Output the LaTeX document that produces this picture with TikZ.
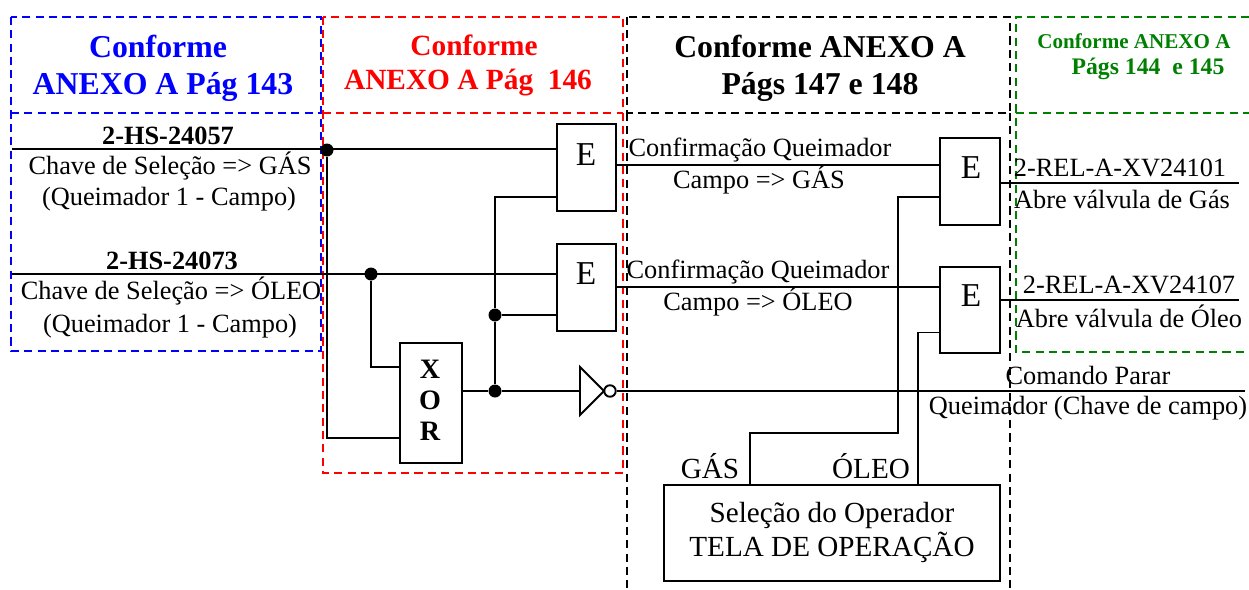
\documentclass[tikz,border=0pt]{standalone}
\usepackage{fontspec}
\setmainfont{Liberation Serif}
\definecolor{darkgreen}{RGB}{0,128,0}
\tikzset{
  zone/.style={dash pattern=on 4.6pt off 3pt, line width=1.3pt},
  wire/.style={line width=1.1pt},
  gate/.style={draw, line width=1.1pt, rectangle, inner sep=0pt},
  dot/.style={circle, fill=black, inner sep=0pt, minimum size=0.26cm},
  bubble/.style={circle, draw, fill=white, line width=1.1pt, inner sep=0pt, minimum size=0.23cm},
  txt/.style={font=\fontsize{15}{18}\selectfont, inner sep=0pt},
  bigtxt/.style={font=\fontsize{16.6}{20}\selectfont, inner sep=0pt},
  btxt/.style={font=\fontsize{15}{18}\selectfont\bfseries, inner sep=0pt},
  headA/.style={font=\fontsize{18.1}{21}\selectfont\bfseries, inner sep=0pt},
  headB/.style={font=\fontsize{16.7}{19}\selectfont\bfseries, inner sep=0pt},
  headC/.style={font=\fontsize{12}{14}\selectfont\bfseries, inner sep=0pt},
  gatetxt/.style={font=\fontsize{19}{21}\selectfont, inner sep=0pt}
}
\begin{document}
\begin{tikzpicture}[x=0.02cm,y=-0.02cm]
    \useasboundingbox (0,0) rectangle (1249,589);
    % Zones
    \draw[zone,blue] (11,17) rectangle (321,351);
    \draw[zone,blue] (11,113) -- (321,113);
    \draw[zone,black] (627,17) rectangle (1010,113);
    \draw[zone,black] (627,113) -- (627,589);
    \draw[zone,black] (1010,113) -- (1010,589);
    \draw[zone,red] (323,17) rectangle (623,473);
    \draw[zone,red] (323,113) -- (623,113);
    \draw[zone,darkgreen] (1249,17) -- (1016,17) -- (1016,352) -- (1249,352);
    \draw[zone,darkgreen] (1016,113) -- (1249,113);
    % Gates
    \node[gate, minimum width=1.18cm, minimum height=1.74cm] (e1) at (586.5,167.5) {};
    \node[gate, minimum width=1.18cm, minimum height=1.74cm] (e2) at (586.5,287.5) {};
    \node[gate, minimum width=1.2cm, minimum height=1.74cm] (e3) at (970,181.5) {};
    \node[gate, minimum width=1.2cm, minimum height=1.72cm] (e4) at (970,310) {};
    \node[gate, minimum width=1.24cm, minimum height=2.4cm] (xor) at (431,403) {};
    \node[gate, minimum width=6.72cm, minimum height=1.92cm] (oper) at (832,533) {};
    % Junctions
    \node[dot] (d1) at (327,150) {};
    \node[dot] (d2) at (371,274) {};
    \node[dot] (d3) at (495,315) {};
    \node[dot] (d4) at (495,391) {};
    \node[bubble] (inv) at (610,391) {};
    % Free ends
    \coordinate (in1) at (12,149);
    \coordinate (in2) at (12,274);
    \coordinate (out1) at (1239,183);
    \coordinate (out2) at (1239,300);
    \coordinate (out3) at (1245,391);
    \coordinate (tria) at (580,367);
    \coordinate (trib) at (580,415);
    \coordinate (tric) at (604,391);
    % Wires
    \draw[wire] (in1) -- (in1 -| e1.west);
    \draw[wire] (in2) -- (in2 -| e2.west);
    \draw[wire] (d1) |- (xor.west |- 0,438);
    \draw[wire] (d2) |- (xor.west |- 0,367);
    \draw[wire] (xor.east |- d4) -- (d4) -- (tria |- d4);
    \draw[wire] (d4) -- (d3) |- (e1.west |- 0,197);
    \draw[wire] (d3) -- (e2.west |- d3);
    \draw[wire] (tria) -- (tric) -- (trib) -- cycle;
    \draw[wire] (inv) -- (out3);
    \draw[wire] (e1.east |- 0,165) -- (e3.west |- 0,165);
    \draw[wire] (e2.east |- 0,287) -- (e4.west |- 0,287);
    \draw[wire] (e3.west |- 0,197) -| (898,433) -| (750,485);
    \draw[wire] (e4.west |- 0,332.5) -| (oper.north -| 918,0);
    \draw[wire] (e3.east |- out1) -- (out1);
    \draw[wire] (e4.east |- out2) -- (out2);
    % Gate text
    \node[gatetxt] (e1t) at (586,155) {E};
    \node[gatetxt] (e2t) at (586,274) {E};
    \node[gatetxt] (e3t) at (971,168) {E};
    \node[gatetxt] (e4t) at (971,296) {E};
    \node[btxt, align=center, font=\fontsize{16}{17.6}\selectfont\bfseries] (xort) at (430,400) {X\\O\\R};
    \node[bigtxt] (opert1) at (832,515) {Seleção do Operador};
    \node[bigtxt] (opert2) at (832,547) {TELA DE OPERAÇÃO};
    \node[bigtxt] (gast) at (710,466) {GÁS};
    \node[bigtxt] (oleot) at (871,466) {ÓLEO};
    % Headers
    \node[headA,blue] (h1a) at (158,46) {Conforme};
    \node[headA,blue] (h1b) at (163,87) {ANEXO A Pág 143};
    \node[headB,red] (h2a) at (474,45) {Conforme};
    \node[headB,red] (h2b) at (468,83) {ANEXO A Pág~ 146};
    \node[headA] (h3a) at (820,46) {Conforme ANEXO A};
    \node[headA] (h3b) at (820,87) {Págs 147 e 148};
    \node[headC,darkgreen] (h4a) at (1134,41) {Conforme ANEXO A};
    \node[headC,darkgreen,font=\fontsize{13.5}{16}\selectfont\bfseries] (h4b) at (1148,69) {Págs 144~ e 145};
    % Labels
    \node[btxt] (l1) at (168,136) {2-HS-24057};
    \node[txt] (l2) at (170,166) {Chave de Seleção => GÁS};
    \node[txt] (l3) at (169,199) {(Queimador 1 - Campo)};
    \node[btxt] (l4) at (172,261) {2-HS-24073};
    \node[txt] (l5) at (171,291) {Chave de Seleção => ÓLEO};
    \node[txt] (l6) at (170,326) {(Queimador 1 - Campo)};
    \node[txt] (l7) at (760,150) {Confirmação Queimador};
    \node[txt] (l8) at (759,180) {Campo => GÁS};
    \node[txt] (l9) at (758,272) {Confirmação Queimador};
    \node[txt] (l10) at (758,302) {Campo => ÓLEO};
    \node[txt] (l11) at (1120,168) {2-REL-A-XV24101};
    \node[txt] (l12) at (1122,199) {Abre válvula de Gás};
    \node[txt] (l13) at (1129,285) {2-REL-A-XV24107};
    \node[txt] (l14) at (1129,316) {Abre válvula de Óleo};
    \node[txt] (l15) at (1088,375) {Comando Parar};
    \node[txt] (l16) at (1088,408) {Queimador (Chave de campo)};
\end{tikzpicture}
\end{document}
